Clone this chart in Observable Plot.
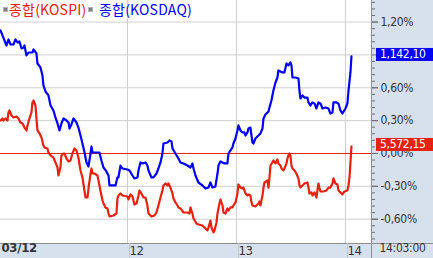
<!DOCTYPE html>
<html><head><meta charset="utf-8">
<script src="https://cdn.jsdelivr.net/npm/d3@7"></script>
<script src="https://cdn.jsdelivr.net/npm/@observablehq/plot@0.6"></script>
<style>
html,body{margin:0;padding:0;background:#fff;}
#wrap{position:relative;width:433px;height:258px;overflow:hidden;}
.panel{position:absolute;background:#d7e1ee;box-sizing:border-box;}
#bp{left:0;top:243px;width:433px;height:15px;border-top:1px solid #8e8e8e;}
#rp{left:371px;top:0;width:62px;height:258px;border-left:1px solid #8e8e8e;}
#rpb{left:371px;top:243px;width:62px;height:1px;background:#8e8e8e;}
#chart{position:absolute;left:0;top:0;}
#legend{position:absolute;left:0;top:0;width:300px;height:20px;font-family:"Noto Sans CJK KR",sans-serif;font-size:14px;line-height:14px;letter-spacing:0.2px;}
#legend .sq{position:absolute;top:7px;width:3px;height:3px;background:#7d7d7d;border:1px solid #b4b4b4;}
#legend .lt{position:absolute;top:2px;white-space:nowrap;}
</style></head>
<body>
<div id="wrap">
  <div class="panel" id="bp"></div>
  <div class="panel" id="rp"></div>
  <div class="panel" id="rpb"></div>
  <div id="chart"></div>
  <div id="legend"></div>
</div>
<script>
// ---- data (x: day position, 12 → 1, 13 → 2, 14 → 3; y: % change) ----
const seriesNames = ["종합(KOSPI)", "종합(KOSDAQ)"];
const seriesColors = ["#e8200e", "#0000ff"];
const lastLabels = ["5,572,15", "1,142,10"];
const dayTicks = [1, 2, 3];
const dayLabels = ["12", "13", "14"];
const periodLabel = ["03/12"];
const clockLabel = ["14:03:00"];
const pctTicks = [-0.6, -0.3, 0, 0.3, 0.6, 1.2];
const gridTicks = [-0.6, -0.3, 0.3, 0.6, 0.9, 1.2];
const majorTicks = [-0.6, -0.3, 0, 0.3, 0.6, 0.9, 1.2];
const minorTicks = [-0.78,-0.72,-0.66,-0.54,-0.48,-0.42,-0.36,-0.24,-0.18,-0.12,-0.06,0.06,0.12,0.18,0.24,0.36,0.42,0.48,0.54,0.66,0.72,0.78,0.84,0.96,1.02,1.08,1.14,1.26,1.32,1.38];
const xDomain = [-0.165, 3.239];
const yDomain = [-0.822, 1.397];

const kospi = [
[-0.165,0.301],[-0.147,0.320],[-0.138,0.301],[-0.119,0.320],[-0.101,0.301],[-0.092,0.374],[-0.083,0.393],[-0.064,0.347],[-0.046,0.329],[-0.018,0.338],
[0.000,0.320],[0.018,0.283],[0.037,0.274],[0.055,0.237],[0.073,0.210],[0.083,0.256],[0.101,0.320],[0.119,0.374],[0.128,0.466],[0.138,0.484],
[0.156,0.438],[0.165,0.320],[0.174,0.210],[0.193,0.183],[0.211,0.146],[0.229,0.073],[0.239,0.055],[0.266,0.046],[0.275,0.009],[0.294,-0.018],
[0.321,-0.037],[0.339,-0.082],[0.358,-0.128],[0.367,-0.201],[0.385,-0.128],[0.394,-0.018],[0.413,0.000],[0.422,0.000],[0.440,-0.046],[0.459,-0.073],
[0.477,-0.064],[0.495,0.000],[0.514,0.046],[0.532,0.027],[0.550,-0.037],[0.569,-0.155],[0.587,-0.219],[0.615,-0.402],[0.633,-0.402],[0.642,-0.320],
[0.661,-0.183],[0.670,-0.137],[0.679,-0.183],[0.697,-0.183],[0.725,-0.201],[0.734,-0.247],[0.752,-0.338],[0.771,-0.429],[0.780,-0.457],[0.798,-0.493],
[0.817,-0.502],[0.826,-0.548],[0.835,-0.575],[0.872,-0.566],[0.899,-0.548],[0.908,-0.411],[0.917,-0.384],[0.936,-0.365],[0.954,-0.384],[1.000,-0.393],
[1.009,-0.420],[1.028,-0.374],[1.046,-0.393],[1.064,-0.466],[1.083,-0.457],[1.101,-0.384],[1.110,-0.338],[1.128,-0.365],[1.147,-0.402],[1.165,-0.402],
[1.183,-0.475],[1.193,-0.548],[1.220,-0.575],[1.248,-0.566],[1.266,-0.539],[1.284,-0.475],[1.303,-0.402],[1.321,-0.338],[1.330,-0.292],[1.349,-0.274],
[1.367,-0.292],[1.376,-0.274],[1.394,-0.311],[1.413,-0.365],[1.422,-0.411],[1.440,-0.447],[1.459,-0.475],[1.468,-0.493],[1.486,-0.502],[1.514,-0.539],
[1.550,-0.539],[1.569,-0.548],[1.578,-0.493],[1.596,-0.548],[1.606,-0.594],[1.633,-0.639],[1.651,-0.648],[1.688,-0.658],[1.706,-0.676],[1.734,-0.703],
[1.743,-0.676],[1.761,-0.612],[1.771,-0.676],[1.789,-0.721],[1.798,-0.703],[1.817,-0.630],[1.826,-0.548],[1.844,-0.457],[1.853,-0.420],[1.872,-0.475],
[1.881,-0.539],[1.899,-0.548],[1.917,-0.502],[1.927,-0.521],[1.945,-0.493],[1.963,-0.493],[1.972,-0.475],[1.991,-0.447],[2.009,-0.365],[2.018,-0.283],
[2.037,-0.311],[2.055,-0.320],[2.064,-0.311],[2.083,-0.365],[2.101,-0.384],[2.110,-0.374],[2.128,-0.384],[2.138,-0.447],[2.147,-0.475],[2.174,-0.484],
[2.202,-0.457],[2.211,-0.438],[2.220,-0.475],[2.229,-0.429],[2.239,-0.384],[2.248,-0.311],[2.257,-0.265],[2.284,-0.247],[2.294,-0.311],[2.303,-0.219],
[2.312,-0.110],[2.330,-0.082],[2.339,-0.064],[2.358,-0.091],[2.376,-0.055],[2.385,-0.091],[2.404,-0.110],[2.413,-0.137],[2.431,-0.155],[2.440,-0.137],
[2.459,-0.091],[2.468,-0.046],[2.477,-0.018],[2.486,0.000],[2.495,-0.018],[2.505,-0.110],[2.514,-0.137],[2.532,-0.155],[2.550,-0.183],[2.569,-0.228],
[2.578,-0.292],[2.587,-0.311],[2.606,-0.292],[2.624,-0.274],[2.651,-0.265],[2.661,-0.311],[2.670,-0.365],[2.688,-0.356],[2.697,-0.384],[2.716,-0.356],
[2.734,-0.402],[2.743,-0.338],[2.752,-0.274],[2.761,-0.311],[2.771,-0.347],[2.798,-0.347],[2.826,-0.338],[2.844,-0.311],[2.862,-0.311],[2.881,-0.274],
[2.890,-0.228],[2.908,-0.274],[2.927,-0.283],[2.936,-0.338],[2.954,-0.356],[2.972,-0.374],[2.991,-0.347],[3.018,-0.338],[3.028,-0.292],[3.037,-0.219],
[3.046,-0.082],[3.055,0.064]
];

const kosdaq = [
[-0.165,1.123],[-0.147,1.078],[-0.128,1.032],[-0.110,0.986],[-0.092,1.041],[-0.073,0.995],[-0.046,0.995],[-0.028,1.041],[-0.009,1.014],[0.009,1.023],
[0.028,0.959],[0.046,0.968],[0.055,0.986],[0.073,0.895],[0.092,0.922],[0.128,0.922],[0.138,0.950],[0.165,0.913],[0.174,0.822],[0.202,0.785],
[0.220,0.712],[0.229,0.621],[0.248,0.566],[0.275,0.530],[0.294,0.438],[0.321,0.393],[0.339,0.329],[0.358,0.274],[0.376,0.210],[0.394,0.274],
[0.413,0.320],[0.440,0.301],[0.459,0.283],[0.468,0.228],[0.486,0.265],[0.505,0.320],[0.532,0.283],[0.550,0.237],[0.569,0.164],[0.587,0.091],
[0.606,0.009],[0.624,-0.082],[0.642,-0.119],[0.651,-0.064],[0.661,0.000],[0.670,0.064],[0.679,0.009],[0.706,0.009],[0.743,0.009],[0.761,-0.064],
[0.780,-0.128],[0.807,-0.164],[0.826,-0.201],[0.835,-0.292],[0.890,-0.292],[0.908,-0.219],[0.917,-0.219],[0.936,-0.110],[0.954,-0.137],[1.000,-0.146],
[1.018,-0.155],[1.046,-0.201],[1.064,-0.228],[1.092,-0.219],[1.101,-0.155],[1.119,-0.082],[1.138,-0.091],[1.165,-0.082],[1.183,-0.110],[1.193,-0.155],
[1.220,-0.219],[1.239,-0.219],[1.266,-0.183],[1.284,-0.137],[1.303,-0.082],[1.321,0.000],[1.330,0.091],[1.367,0.100],[1.385,0.119],[1.404,0.110],
[1.413,0.046],[1.440,0.000],[1.468,-0.046],[1.486,-0.082],[1.514,-0.091],[1.550,-0.110],[1.578,-0.128],[1.596,-0.091],[1.606,-0.137],[1.624,-0.201],
[1.651,-0.265],[1.688,-0.292],[1.716,-0.320],[1.743,-0.311],[1.761,-0.265],[1.780,-0.311],[1.807,-0.301],[1.826,-0.183],[1.835,-0.110],[1.853,-0.073],
[1.890,-0.091],[1.917,-0.091],[1.927,0.000],[1.963,0.055],[1.972,0.091],[1.991,0.137],[2.009,0.210],[2.018,0.256],[2.037,0.210],[2.055,0.192],
[2.073,0.192],[2.083,0.164],[2.101,0.192],[2.110,0.228],[2.128,0.237],[2.147,0.100],[2.156,0.091],[2.174,0.137],[2.202,0.164],[2.220,0.183],
[2.239,0.228],[2.248,0.320],[2.266,0.356],[2.294,0.384],[2.303,0.420],[2.321,0.484],[2.339,0.575],[2.358,0.648],[2.376,0.694],[2.385,0.758],
[2.422,0.740],[2.440,0.740],[2.459,0.822],[2.477,0.804],[2.495,0.831],[2.505,0.804],[2.514,0.694],[2.541,0.694],[2.569,0.685],[2.578,0.575],
[2.587,0.502],[2.606,0.530],[2.624,0.511],[2.651,0.511],[2.661,0.466],[2.679,0.438],[2.697,0.466],[2.716,0.457],[2.734,0.411],[2.752,0.466],
[2.771,0.457],[2.789,0.411],[2.817,0.420],[2.844,0.411],[2.862,0.365],[2.881,0.374],[2.890,0.466],[2.917,0.466],[2.936,0.457],[2.954,0.393],
[2.972,0.365],[3.000,0.411],[3.018,0.457],[3.028,0.575],[3.046,0.740],[3.055,0.886]
];

// ---- build ----
const NARROW = '"Liberation Sans Narrow","DejaVu Sans Condensed","Liberation Sans",sans-serif';
const dayLabelOf = Object.fromEntries(dayTicks.map((d, i) => [d, dayLabels[i]]));
const fmtPct = d => (d < 0 ? "-" : "") + Math.abs(d).toFixed(2).replace(".", ",") + "%";
const toRows = arr => arr.map(([t, v]) => ({t, v}));
const kospiRows = toRows(kospi);
const kosdaqRows = toRows(kosdaq);

const chart = Plot.plot({
  width: 433, height: 258,
  marginLeft: 0, marginRight: 62, marginTop: 0, marginBottom: 15,
  style: {background: "transparent", fontFamily: NARROW, fontSize: "12px", letterSpacing: "-0.3px", color: "#333"},
  x: {domain: xDomain, label: null},
  y: {domain: yDomain, label: null},
  marks: [
    Plot.gridY(gridTicks, {stroke: "#cfcfcf", strokeOpacity: 1}),
    Plot.gridX(dayTicks, {stroke: "#cfcfcf", strokeOpacity: 1}),
    Plot.axisX(dayTicks, {anchor: "bottom", tickSize: 15, tickPadding: -13, stroke: "#c8c8c8", strokeOpacity: 1,
      textAnchor: "start", dx: 2, tickFormat: d => dayLabelOf[d], fill: "#333", fontSize: 13, label: null}),
    Plot.axisY(minorTicks, {anchor: "right", tickSize: 3, tickFormat: () => "", stroke: "#6e6e6e", strokeOpacity: 1, label: null}),
    Plot.axisY(majorTicks, {anchor: "right", tickSize: 6, tickFormat: () => "", stroke: "#6e6e6e", strokeOpacity: 1, label: null}),
    Plot.axisY(pctTicks, {anchor: "right", tickSize: 6, tickPadding: 3, tickFormat: fmtPct, stroke: "#6e6e6e", strokeOpacity: 1, fill: "#333", label: null}),
    Plot.ruleY([0], {stroke: seriesColors[0], strokeWidth: 1}),
    Plot.line(kosdaqRows, {x: "t", y: "v", stroke: seriesColors[1], strokeWidth: 2.2}),
    Plot.line(kospiRows, {x: "t", y: "v", stroke: seriesColors[0], strokeWidth: 2.2}),
    Plot.text(periodLabel, {frameAnchor: "bottom-left", dx: 1, dy: 8, textAnchor: "start", fontWeight: "bold", fontSize: 13, fill: "#333"}),
    Plot.text(clockLabel, {frameAnchor: "bottom-right", dx: 31, dy: 8, textAnchor: "middle", fill: "#333"})
  ]
});
document.getElementById("chart").appendChild(chart);

// value boxes at the last values, positioned via the plot's own scales
const ys = chart.scale("y"), xs = chart.scale("x");
const right = xs.range[1];
const svg = d3.select(chart);
[[kospi, 0], [kosdaq, 1]].forEach(([arr, i]) => {
  const py = ys.apply(arr[arr.length - 1][1]);
  const g = svg.append("g");
  g.append("rect").attr("x", right + 5).attr("y", py - 8).attr("width", 433 - right - 5).attr("height", 13)
    .attr("fill", seriesColors[i]);
  g.append("text").attr("x", right + 9).attr("y", py - 1.5).attr("dominant-baseline", "middle")
    .attr("text-anchor", "start")
    .attr("fill", "#fff").style("font-family", NARROW).style("font-size", "12px").text(lastLabels[i]);
});

// legend
const lg = document.getElementById("legend");
const sqX = [3, 88], txX = [9, 99];
seriesNames.forEach((n, i) => {
  const s = document.createElement("span"); s.className = "sq"; s.style.left = sqX[i] + "px"; lg.appendChild(s);
  const t = document.createElement("span"); t.className = "lt"; t.style.left = txX[i] + "px";
  t.style.color = seriesColors[i]; t.textContent = n; lg.appendChild(t);
});
</script>
</body></html>
